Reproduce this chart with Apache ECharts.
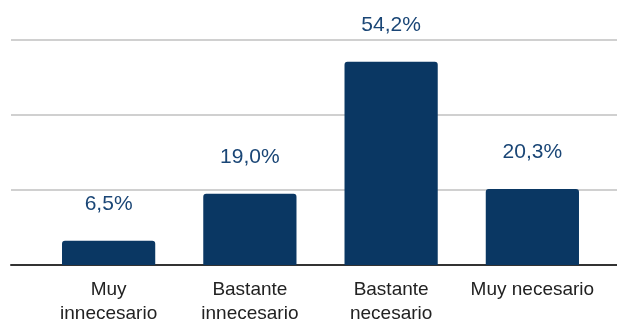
<!DOCTYPE html>
<html>
<head>
<meta charset="utf-8">
<script src="https://cdn.jsdelivr.net/npm/echarts@6/dist/echarts.min.js"></script>
<style>
html,body{margin:0;padding:0;background:#fff;}
#chart{width:617px;height:322px;}
</style>
</head>
<body>
<div id="chart"></div>
<script>
const categories = ['Muy\ninnecesario', 'Bastante\ninnecesario', 'Bastante\nnecesario', 'Muy necesario'];
const values = [6.5, 19.0, 54.2, 20.3];
const yTicks = [0, 20, 40, 60];

const chart = echarts.init(document.getElementById('chart'), null, {renderer: 'canvas'});
const font = 'Liberation Sans, Arial, sans-serif';
chart.setOption({
  animation: false,
  grid: [
    {left: 11, right: 0, top: 40, bottom: 57, containLabel: false, outerBoundsMode: 'none'},
    {left: 38, right: 14, top: 40, bottom: 57, containLabel: false, outerBoundsMode: 'none'}
  ],
  xAxis: [
    {gridIndex: 0, type: 'value', min: 0, max: 1, show: true,
     axisLine: {show: true, onZero: false, lineStyle: {color: '#333', width: 2}},
     axisTick: {show: false}, axisLabel: {show: false}, splitLine: {show: false}},
    {gridIndex: 1, type: 'category', data: categories,
     axisLine: {show: false}, axisTick: {show: false},
     axisLabel: {color: '#222', fontFamily: font, fontSize: 19, lineHeight: 24, margin: 13, interval: 0}}
  ],
  yAxis: [
    {gridIndex: 0, type: 'value', min: yTicks[0], max: yTicks[yTicks.length-1], interval: 20,
     axisLine: {show: false}, axisTick: {show: false}, axisLabel: {show: false},
     splitLine: {show: true, lineStyle: {color: '#d0d0d0', width: 2}}},
    {gridIndex: 1, type: 'value', min: yTicks[0], max: yTicks[yTicks.length-1], interval: 20,
     show: false, splitLine: {show: false}}
  ],
  series: [{
    type: 'bar', xAxisIndex: 1, yAxisIndex: 1,
    data: values, barWidth: '66%',
    itemStyle: {color: '#0a3763', borderRadius: [3, 3, 0, 0]},
    label: {show: true, position: 'top', distance: 26, color: '#1a4676', fontFamily: font, fontSize: 21,
      formatter: p => p.value.toFixed(1).replace('.', ',') + '%'}
  }]
});
</script>
</body>
</html>
